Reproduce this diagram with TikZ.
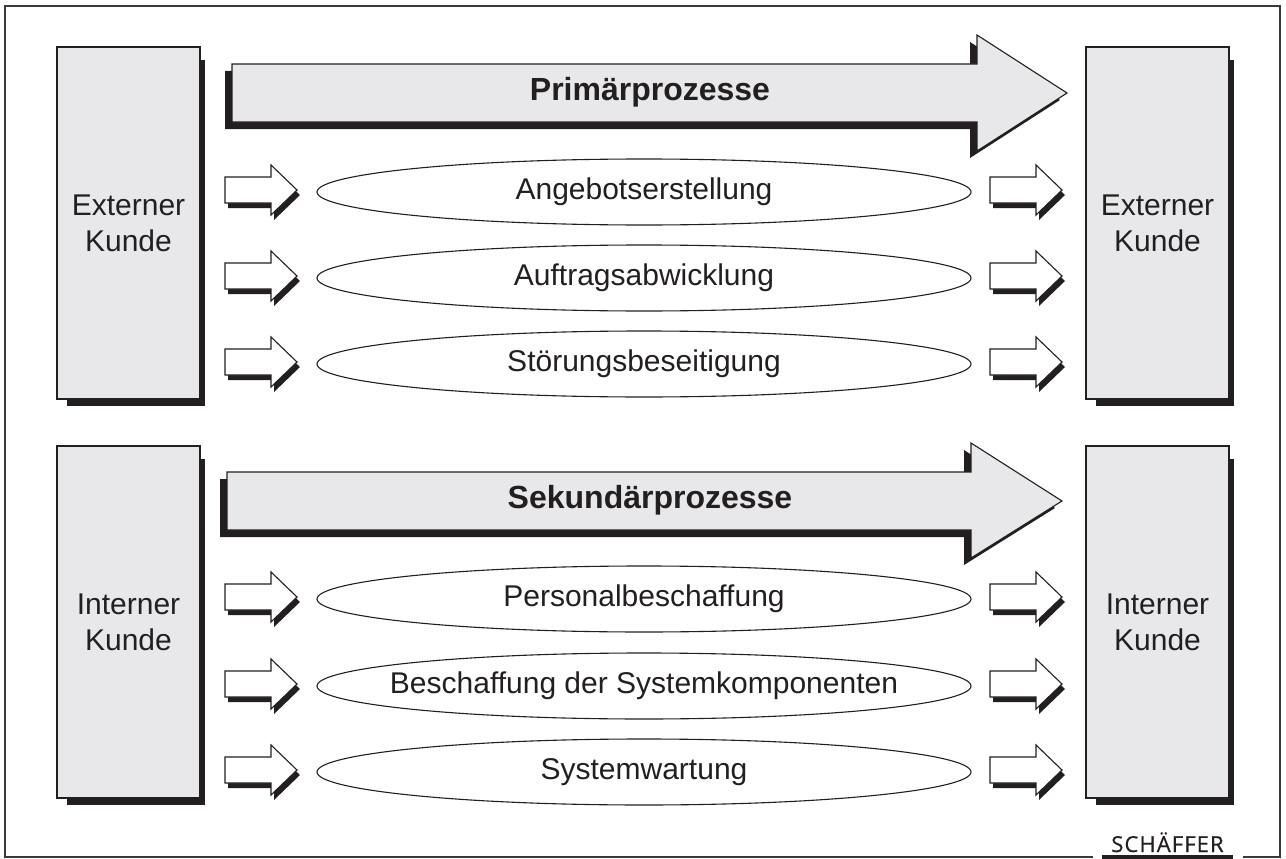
\documentclass[tikz,border=0pt]{standalone}
\usepackage{fontspec}
\setmainfont{Liberation Sans}
\newfontfamily\logofont[LetterSpace=5,FakeBold=0.6]{Open Sans}
\usetikzlibrary{shapes.geometric,backgrounds,calc}
\definecolor{ink}{HTML}{231F20}
\definecolor{boxgrey}{HTML}{E8E8EA}
\definecolor{framegrey}{HTML}{3A3A3A}
\begin{document}
\begin{tikzpicture}[x=1pt,y=-1pt,
  kunde/.style={draw=ink, line width=1.2pt, fill=boxgrey, minimum width=143pt,
    minimum height=352pt, align=center, text=ink, inner sep=0pt,
    font=\fontsize{30}{36}\selectfont},
  prozess/.style={ellipse, draw=ink, line width=1.1pt, fill=white,
    minimum width=654pt, minimum height=66pt, inner sep=0pt, text=ink,
    font=\fontsize{30}{36}\selectfont},
  titel/.style={text=ink, inner sep=0pt, font=\fontsize{32}{38}\selectfont\bfseries},
  bigbody/.style={draw=ink, line width=1.1pt, fill=boxgrey},
  shade/.style={fill=ink},
  smallarrow/.pic={
    \fill[ink, shift={(3,5)}] (0,-13) -- (46,-13) -- (46,-25) -- (72,0)
      -- (46,25) -- (46,13) -- (0,13) -- cycle;
    \draw[ink, line width=1.1pt, fill=white] (0,-13) -- (46,-13) -- (46,-25)
      -- (72,0) -- (46,25) -- (46,13) -- (0,13) -- cycle;
  }]
\useasboundingbox (0,0) rectangle (1286,859);

% outer frame with an opening for the publisher mark
\draw[framegrey, line width=1.5pt] (1093,857) -- (5,857) -- (5,6) -- (1280,6)
  -- (1280,857) -- (1243,857);
\draw[ink, line width=3.5pt] (1102,857) -- (1233,857);
\node[anchor=base, text=ink, inner sep=0pt, font=\logofont\fontsize{22}{24}\selectfont]
  (logo) at (1167.5,852) {SCHÄFFER};

% customer boxes
\node[kunde] (ext1) at (128.5,223) {Externer\\Kunde};
\node[kunde] (ext2) at (1157.5,223) {Externer\\Kunde};
\node[kunde] (int1) at (128.5,622) {Interner\\Kunde};
\node[kunde] (int2) at (1157.5,622) {Interner\\Kunde};
\begin{scope}[on background layer]
  \foreach \b in {ext1,ext2,int1,int2}
    \fill[shade] ($(\b.north east)+(4,14)$) rectangle ($(\b.south west)+(11,6)$);
\end{scope}

% primary process arrow
\fill[shade, shift={(-7,7)}] (232,64) -- (977,64) -- (977,35) -- (1067,93)
  -- (977,151) -- (977,122) -- (232,122) -- cycle;
\draw[bigbody] (232,64) -- (977,64) -- (977,35) -- (1067,93)
  -- (977,151) -- (977,122) -- (232,122) -- cycle;
\node[titel] (prim) at (650,92) {Primärprozesse};

% secondary process arrow
\fill[shade, shift={(-7,7)}] (227,472) -- (971,472) -- (971,443) -- (1062,501)
  -- (971,558) -- (971,530) -- (227,530) -- cycle;
\draw[bigbody] (227,472) -- (971,472) -- (971,443) -- (1062,501)
  -- (971,558) -- (971,530) -- (227,530) -- cycle;
\node[titel] (sek) at (650,500) {Sekundärprozesse};

% process rows: arrow in, process ellipse, arrow out
\foreach \y/\n/\t in {192/p1/Angebotserstellung, 278/p2/Auftragsabwicklung,
    364/p3/Störungsbeseitigung, 599/s1/Personalbeschaffung,
    686/s2/Beschaffung der Systemkomponenten, 772/s3/Systemwartung} {
  \pic at (225,\y-2) {smallarrow};
  \pic at (990,\y-2) {smallarrow};
  \node[prozess] (\n) at (644,\y) {\makebox[0pt]{\t}};
}
\end{tikzpicture}
\end{document}
